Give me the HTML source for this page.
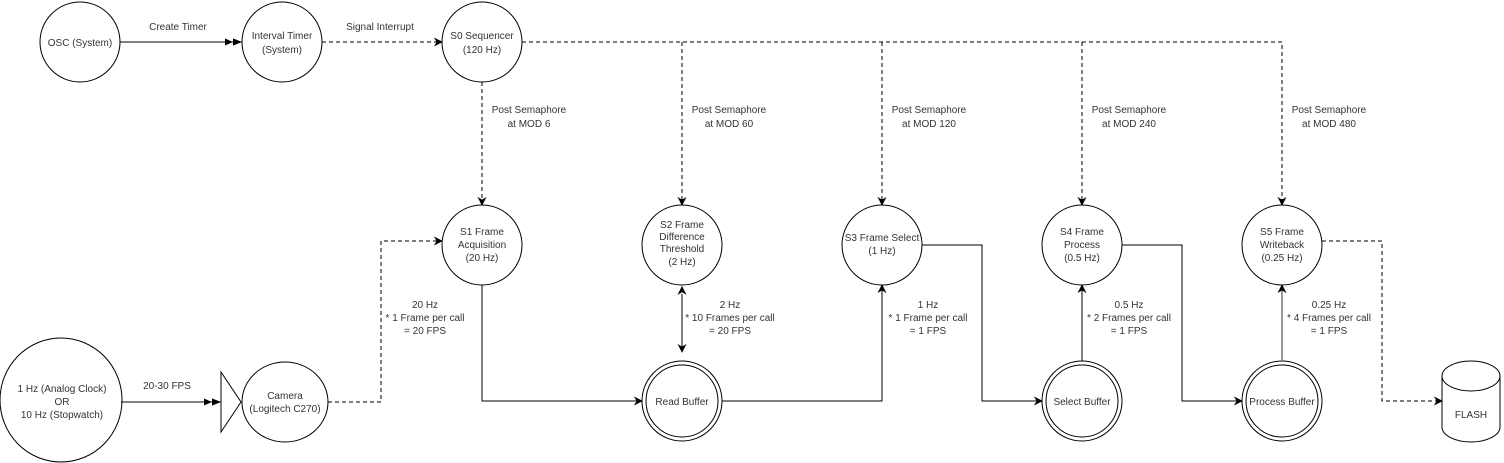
<!DOCTYPE html>
<html><head><meta charset="utf-8"><style>
html,body{margin:0;padding:0;background:#fff;}
svg{display:block;}
text{font-family:"Liberation Sans",Arial,sans-serif;font-size:10px;fill:#333;text-anchor:middle;}
</style></head><body>
<svg width="1504" height="463" viewBox="0 0 1504 463" xmlns="http://www.w3.org/2000/svg">
<defs>
<marker id="a" viewBox="0 0 10 10" refX="9" refY="5" markerWidth="9" markerHeight="9" markerUnits="userSpaceOnUse" orient="auto"><path d="M0,0 L10,5 L0,10 L3,5 z" fill="#000"/></marker>
<marker id="aa" viewBox="0 0 20 10" refX="19" refY="5" markerWidth="18" markerHeight="9" markerUnits="userSpaceOnUse" orient="auto"><path d="M0,1 L9,5 L0,9 z M9,1 L19,5 L9,9 z" fill="#000"/></marker>
<marker id="as" viewBox="0 0 10 10" refX="1" refY="5" markerWidth="9" markerHeight="9" markerUnits="userSpaceOnUse" orient="auto-start-reverse"><path d="M0,0 L10,5 L0,10 L3,5 z" fill="#000"/></marker>
</defs>
<g fill="#fff" stroke="#000" stroke-width="1">
<circle cx="80" cy="42" r="40"/>
<circle cx="282" cy="42" r="40"/>
<circle cx="482" cy="42" r="40"/>
<circle cx="482" cy="245" r="40"/>
<circle cx="682" cy="245" r="40"/>
<circle cx="882" cy="245" r="40"/>
<circle cx="1082" cy="245" r="40"/>
<circle cx="1282" cy="245" r="40"/>
<circle cx="682" cy="401" r="40"/><circle cx="682" cy="401" r="36"/>
<circle cx="1082" cy="401" r="40"/><circle cx="1082" cy="401" r="36"/>
<circle cx="1282" cy="401" r="40"/><circle cx="1282" cy="401" r="36"/>
<ellipse cx="61" cy="400" rx="61" ry="62"/>
<ellipse cx="285" cy="402" rx="43" ry="40"/>
<path d="M221,372 L241,402 L221,432 z"/>
<path d="M1442,376 L1442,427 A29,15 0 0 0 1500,427 L1500,376"/>
<ellipse cx="1471" cy="376" rx="29" ry="15"/>
</g>
<g fill="none" stroke="#000" stroke-width="1">
<line x1="120" y1="42" x2="242" y2="42" marker-end="url(#aa)"/>
<line x1="121" y1="402" x2="221" y2="402" marker-end="url(#aa)"/>
<g stroke-dasharray="4,3">
<line x1="322" y1="42" x2="442" y2="42" marker-end="url(#a)"/>
<path d="M522,42 H1282 V205" marker-end="url(#a)"/>
<line x1="482" y1="82" x2="482" y2="205" marker-end="url(#a)"/>
<line x1="682" y1="42" x2="682" y2="205" marker-end="url(#a)"/>
<line x1="882" y1="42" x2="882" y2="205" marker-end="url(#a)"/>
<line x1="1082" y1="42" x2="1082" y2="205" marker-end="url(#a)"/>
<path d="M328,402 H381 V241 H442" marker-end="url(#a)"/>
<path d="M1322,241 H1382 V401 H1442" marker-end="url(#a)"/>
</g>
<path d="M482,285 V401 H642" marker-end="url(#a)"/>
<line x1="682" y1="294" x2="682" y2="352" marker-start="url(#as)" marker-end="url(#a)"/>
<path d="M722,401 H882 V285" marker-end="url(#a)"/>
<path d="M922,245 H982 V401 H1042" marker-end="url(#a)"/>
<line x1="1082" y1="361" x2="1082" y2="285" marker-end="url(#a)"/>
<path d="M1122,245 H1182 V401 H1242" marker-end="url(#a)"/>
<line x1="1282" y1="361" x2="1282" y2="285" stroke="#777" stroke-width="1.5" marker-end="url(#a)"/>
</g>
<text x="80" y="46">OSC (System)</text>
<text x="282" y="39">Interval Timer</text><text x="282" y="53">(System)</text>
<text x="482" y="39">S0 Sequencer</text><text x="482" y="53">(120 Hz)</text>
<text x="178" y="30">Create Timer</text>
<text x="380" y="30">Signal Interrupt</text>
<text x="529" y="113">Post Semaphore</text><text x="529" y="127">at MOD 6</text>
<text x="729" y="113">Post Semaphore</text><text x="729" y="127">at MOD 60</text>
<text x="929" y="113">Post Semaphore</text><text x="929" y="127">at MOD 120</text>
<text x="1129" y="113">Post Semaphore</text><text x="1129" y="127">at MOD 240</text>
<text x="1329" y="113">Post Semaphore</text><text x="1329" y="127">at MOD 480</text>
<text x="482" y="235">S1 Frame</text><text x="482" y="248">Acquisition</text><text x="482" y="261">(20 Hz)</text>
<text x="682" y="228">S2 Frame</text><text x="682" y="240">Difference</text><text x="682" y="252">Threshold</text><text x="682" y="265">(2 Hz)</text>
<text x="882" y="241">S3 Frame Select</text><text x="882" y="254">(1 Hz)</text>
<text x="1082" y="235">S4 Frame</text><text x="1082" y="248">Process</text><text x="1082" y="261">(0.5 Hz)</text>
<text x="1282" y="235">S5 Frame</text><text x="1282" y="248">Writeback</text><text x="1282" y="261">(0.25 Hz)</text>
<text x="425" y="308">20 Hz</text><text x="425" y="321">* 1 Frame per call</text><text x="425" y="334">= 20 FPS</text>
<text x="730" y="308">2 Hz</text><text x="730" y="321">* 10 Frames per call</text><text x="730" y="334">= 20 FPS</text>
<text x="928" y="308">1 Hz</text><text x="928" y="321">* 1 Frame per call</text><text x="928" y="334">= 1 FPS</text>
<text x="1129" y="308">0.5 Hz</text><text x="1129" y="321">* 2 Frames per call</text><text x="1129" y="334">= 1 FPS</text>
<text x="1329" y="308">0.25 Hz</text><text x="1329" y="321">* 4 Frames per call</text><text x="1329" y="334">= 1 FPS</text>
<text x="682" y="405">Read Buffer</text>
<text x="1082" y="405">Select Buffer</text>
<text x="1282" y="405">Process Buffer</text>
<text x="1471" y="418">FLASH</text>
<text x="167" y="389">20-30 FPS</text>
<text x="62" y="392">1 Hz (Analog Clock)</text><text x="62" y="405">OR</text><text x="62" y="418">10 Hz (Stopwatch)</text>
<text x="285" y="399">Camera</text><text x="285" y="412">(Logitech C270)</text>
</svg>
</body></html>
